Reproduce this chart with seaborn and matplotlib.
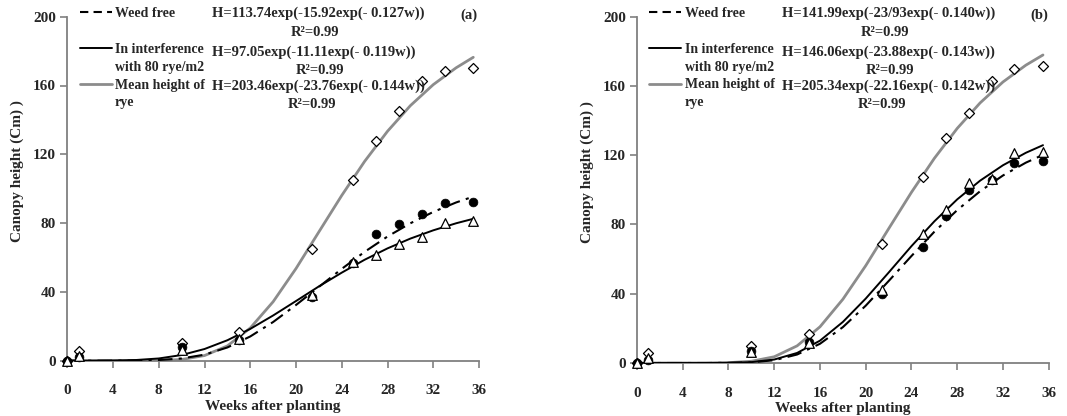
import matplotlib.pyplot as plt
import seaborn as sns
from matplotlib.lines import Line2D

weeks = [0, 1, 10, 15, 21.4, 25, 27, 29, 31, 33, 35.5]

a_free = [0, 2, 8, 12, 37, 57, 73.5, 79.5, 85.4, 91.6, 92.2]
a_interf = [0, 3, 6.5, 12.5, 38, 57.5, 61.5, 67.6, 71.7, 80, 81.3]
a_rye = [0, 5.5, 10.3, 16.6, 65, 105, 127.7, 145.2, 162.5, 168.4, 170.3]

b_free = [0, 2, 7.2, 12, 40, 67, 85, 100, 105.5, 115.5, 116.5]
b_interf = [0, 3, 6.2, 11.7, 42, 74.5, 88.5, 104, 106.5, 121, 122]
b_rye = [0, 5.5, 10.1, 17, 69, 107.5, 130, 144.5, 163, 170, 171.5]

# fitted curves
fit_weeks = [0, 2, 4, 6, 8, 10, 12, 14, 16, 18, 20, 22, 24, 26, 28, 30, 32, 34, 35.5]

a_free_fit = [0, 0, 0, 0.1, 0.4, 1.3, 3.5, 7.7, 14.1, 22.5, 32.4, 42.9, 53.4, 63.3, 72.2, 79.9, 86.5, 92.0, 95.4]
a_interf_fit = [0, 0, 0.1, 0.4, 1.3, 3.3, 6.8, 11.9, 18.5, 26.3, 34.7, 43.2, 51.2, 58.7, 65.3, 71.0, 75.8, 79.9, 82.5]
a_rye_fit = [0, 0, 0, 0, 0.1, 0.7, 3.0, 8.6, 19.0, 34.3, 53.6, 74.9, 96.1, 115.9, 133.4, 148.3, 160.5, 170.3, 176.4]

b_free_fit = [0, 0, 0, 0, 0.1, 0.4, 1.6, 4.9, 11.1, 20.7, 33.1, 47.3, 61.8, 75.8, 88.3, 99.2, 108.3, 115.7, 120.2]
b_interf_fit = [0, 0, 0, 0, 0.1, 0.5, 2.0, 5.8, 12.9, 23.7, 37.2, 52.2, 67.5, 81.8, 94.5, 105.3, 114.2, 121.4, 125.8]
b_rye_fit = [0, 0, 0, 0, 0.2, 1.0, 3.6, 9.9, 20.9, 36.8, 56.2, 77.5, 98.6, 118.2, 135.5, 150.2, 162.3, 172.0, 177.9]

a_eqs = ["H=113.74exp(-15.92exp(- 0.127w))", "H=97.05exp(-11.11exp(- 0.119w))",
         "H=203.46exp(-23.76exp(- 0.144w))"]
b_eqs = ["H=141.99exp(-23/93exp(- 0.140w))", "H=146.06exp(-23.88exp(- 0.143w))",
         "H=205.34exp(-22.16exp(- 0.142w))"]
r2_text = "R²=0.99"

legend_labels = ["Weed free", "", "In interference", "with 80 rye/m2", "Mean height of", "rye"]
xticks = list(range(0, 37, 4))
yticks = list(range(0, 201, 40))

sns.set_style("white")
plt.rcParams['font.family'] = ['Liberation Serif', 'DejaVu Serif']
plt.rcParams['font.weight'] = 'bold'

W, H = 1067, 416
GRAY = '#8c8c8c'
DASH = (0, (7, 3, 1.5, 3))

fig = plt.figure(figsize=(W / 100, H / 100), dpi=100)
ax_a = fig.add_axes([67.3 / W, 1 - 360.7 / H, 411.7 / W, 344 / H])
ax_b = fig.add_axes([637 / W, 1 - 363 / H, 411.7 / W, 346.3 / H])


def draw(ax, free, interf, rye, free_fit, interf_fit, rye_fit, eqs, tag, x0):
    sns.lineplot(x=fit_weeks, y=rye_fit, ax=ax, color=GRAY, lw=2, zorder=2)
    sns.lineplot(x=fit_weeks, y=interf_fit, ax=ax, color='black', lw=1.4, zorder=3)
    sns.lineplot(x=fit_weeks, y=free_fit, ax=ax, color='black', lw=1.5, linestyle=DASH, zorder=3)

    sns.scatterplot(x=weeks, y=rye, ax=ax, marker='D', s=26, color='white',
                    edgecolor='black', linewidth=0.9, zorder=4, clip_on=False)
    sns.scatterplot(x=weeks, y=free, ax=ax, marker='o', s=40, color='black',
                    edgecolor='black', linewidth=0.5, zorder=5, clip_on=False)
    sns.scatterplot(x=weeks, y=interf, ax=ax, marker='^', s=48, color='white',
                    edgecolor='black', linewidth=0.9, zorder=6, clip_on=False)

    ax.set_xlim(0, 36)
    ax.set_ylim(0, 200)
    ax.set_xticks(xticks)
    ax.set_yticks(yticks)
    ax.tick_params(axis='both', direction='out', length=5, width=1.2, color='#808080',
                   labelsize=11, bottom=True, left=True)
    ax.tick_params(axis='x', pad=12)
    ax.tick_params(axis='y', pad=3)
    for lab in ax.get_xticklabels() + ax.get_yticklabels():
        lab.set_fontweight('bold')
    sns.despine(ax=ax)
    for side in ['left', 'bottom']:
        ax.spines[side].set_color('#808080')
        ax.spines[side].set_linewidth(1.3)

    ax.set_xlabel("Weeks after planting", fontsize=11, fontweight='bold', labelpad=2)
    ax.set_ylabel("Canopy height (Cm) )", fontsize=11, fontweight='bold')
    ax.yaxis.set_label_coords(-0.105, 0.55)

    handles = [Line2D([], [], color='black', lw=1.5, linestyle=(0, (4, 2.5))),
               Line2D([], [], color='none'),
               Line2D([], [], color='black', lw=1.4),
               Line2D([], [], color='none'),
               Line2D([], [], color=GRAY, lw=2),
               Line2D([], [], color='none')]
    ax.legend(handles, legend_labels, loc='upper left', bbox_to_anchor=(0.03, 1.028),
              frameon=False, handlelength=2.3, handletextpad=0.25,
              labelspacing=0.35, borderpad=0, borderaxespad=0,
              prop={'family': 'Liberation Serif', 'weight': 'bold', 'size': 10})

    # fitted equations and R2 labels
    for eq, ey in zip(eqs, [13, 52, 86]):
        fig.text((x0 + 145) / W, 1 - ey / H, eq, fontsize=10.5, fontweight='bold', va='center')
    for rx, ry in zip([248, 253, 245], [32, 70, 105]):
        fig.text((x0 + rx) / W, 1 - ry / H, r2_text, fontsize=10.5, fontweight='bold',
                 va='center', ha='center')
    fig.text((x0 + 402) / W, 1 - 15 / H, tag, fontsize=10.5, fontweight='bold',
             va='center', ha='center')


draw(ax_a, a_free, a_interf, a_rye, a_free_fit, a_interf_fit, a_rye_fit, a_eqs, "(a)", 67.3)
draw(ax_b, b_free, b_interf, b_rye, b_free_fit, b_interf_fit, b_rye_fit, b_eqs, "(b)", 637)

fig.savefig("out.png", dpi=100)
